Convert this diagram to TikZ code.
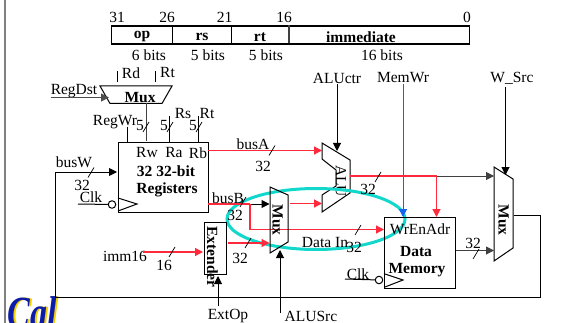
\documentclass[tikz,border=0pt]{standalone}
\usepackage{fontspec}
\setmainfont{Liberation Serif}
\usetikzlibrary{arrows.meta,calc}
\definecolor{wred}{HTML}{FF2A3C}
\definecolor{wblue}{HTML}{1464F0}
\definecolor{wteal}{HTML}{12D8CC}
\definecolor{wgray}{HTML}{808080}
\definecolor{calblue}{HTML}{0C1CA8}
\definecolor{calgold}{HTML}{F2D000}
\tikzset{
  lbl/.style={inner sep=0pt,font=\fontsize{15.5}{17}\selectfont},
  blbl/.style={inner sep=0pt,font=\fontsize{15.5}{17}\selectfont\bfseries},
  sbox/.style={draw=black,line width=1pt,inner sep=0pt,anchor=north west},
  wire/.style={draw=black,line width=1pt},
  wirea/.style={wire,-{Triangle[length=8pt,width=8pt]}},
  redw/.style={draw=wred,line width=1.2pt},
  reda/.style={redw,-{Triangle[length=8pt,width=8pt]}},
  slashm/.style={draw=black,line width=.7pt},
  shp/.style={draw=black,line width=1pt,line join=miter},
}
\newcommand{\busslash}[1]{\draw[slashm] ($(#1)+(-3,5)$) -- ($(#1)+(3,-5)$);}
\begin{document}
\begin{tikzpicture}[x=1pt,y=-1pt]
\useasboundingbox (0,0) rectangle (569,323);
\fill[white] (0,0) rectangle (569,323);
% page edge
\draw[wgray,line width=1.5pt] (5,0) -- (5,323);
% Cal logo
\begin{scope}
\clip (6,296) rectangle (80,323);
\node[inner sep=0pt,anchor=base west,text=calgold,font=\fontsize{46}{46}\selectfont\bfseries\itshape] (calb) at (9.5,328) {\scalebox{.74}[1]{Cal}};
\node[inner sep=0pt,anchor=base west,text=calblue,font=\fontsize{46}{46}\selectfont\bfseries\itshape] (cal) at (7.5,328) {\scalebox{.74}[1]{Cal}};
\end{scope}
% instruction format
\node[sbox,line width=1.8pt,minimum width=358pt,minimum height=18pt] (fmt) at (110.5,25) {};
\coordinate (d1t) at (172.5,25); \coordinate (d1b) at (172.5,43);
\coordinate (d2t) at (231,25); \coordinate (d2b) at (231,43);
\coordinate (d3t) at (289,25); \coordinate (d3b) at (289,43);
\draw[line width=1pt] (d1t) -- (d1b);
\draw[line width=1pt] (d2t) -- (d2b);
\draw[line width=1.5pt,black!75] (d3t) -- (d3b);
\node[lbl] (n31) at (117,17) {31};
\node[lbl] (n26) at (167,17) {26};
\node[lbl] (n21) at (224.5,17) {21};
\node[lbl] (n16) at (284,17) {16};
\node[lbl] (n0) at (467,17) {0};
\node[blbl] (fop) at (142,37) {op};
\node[blbl] (frs) at (202,37) {rs};
\node[blbl] (frt) at (260,37) {rt};
\node[blbl] (fimm) at (361,37) {immediate};
\node[lbl] (b6) at (149,55) {6 bits};
\node[lbl] (b5a) at (208,55) {5 bits};
\node[lbl] (b5b) at (266,55) {5 bits};
\node[lbl] (b16) at (382,55) {16 bits};
% RegDst mux
\node[lbl] (rd) at (131,73) {Rd};
\node[lbl] (rt1) at (167.5,73) {Rt};
\coordinate (rdt) at (117.5,71); \coordinate (rdb) at (117.5,82);
\coordinate (rtt) at (155,71); \coordinate (rtb) at (155,82);
\draw[wire] (rdt) -- (rdb);
\draw[wire] (rtt) -- (rtb);
\draw[shp] (100,86) -- (172,86) -- (162,103.5) -- (110,103.5) -- cycle;
\node[blbl] (mux1) at (140,98) {Mux};
\coordinate (m1in) at (109,97.5); \coordinate (m1s) at (50.5,97.5);
\node[lbl] (regdst) at (74,91) {RegDst};
\draw[wirea,draw=black!70] (m1s) -- (m1in);
\coordinate (m1o) at (146,103.5);
% registers
\node[sbox,minimum width=90pt,minimum height=70pt] (regs) at (117.5,142) {};
\node[lbl] (rw) at (147,153) {Rw};
\node[lbl] (ra) at (174,153) {Ra};
\node[lbl] (rb) at (198,153) {Rb};
\node[blbl] (r32) at (166,171) {32 32-bit};
\node[blbl] (rreg) at (167,190) {Registers};
\draw[wire,draw=black!75] (m1o) -- (146,141.5);
\node[lbl] (regwr) at (115,122) {RegWr};
\coordinate (rwt) at (127,127); \coordinate (rwb) at (127,142);
\coordinate (rat) at (169,116); \coordinate (rab) at (169,142);
\coordinate (rbt) at (198,116); \coordinate (rbb) at (198,142);
\draw[wire] (rwt) -- (rwb);
\draw[wire] (rat) -- (rab);
\draw[wire] (rbt) -- (rbb);
\coordinate (s1) at (146,127); \busslash{s1}
\coordinate (s2) at (170,127); \busslash{s2}
\coordinate (s3) at (199,127); \busslash{s3}
\node[lbl] (five1) at (140,126) {5};
\node[lbl] (five2) at (164,126) {5};
\node[lbl] (five3) at (193,126) {5};
\node[lbl] (rs) at (183,114) {Rs};
\node[lbl] (rt2) at (207,114) {Rt};
% clocks
\coordinate (ck1a) at (118,198); \coordinate (ck1b) at (137,204); \coordinate (ck1c) at (118,211);
\draw[wire] (ck1a) -- (ck1b) -- (ck1c);
\node[draw=black,line width=1pt,circle,inner sep=0pt,minimum size=7.5pt,fill=white] (c1) at (112,204.5) {};
\coordinate (ck1l) at (78,204);
\draw[wire] (ck1l) -- (c1);
\node[lbl] (clk1) at (91,197) {Clk};
% busW loop
\coordinate (w1) at (55,172);
\coordinate (w2) at (55,297);
\coordinate (w3) at (540,297);
\coordinate (w4) at (540,215);
\coordinate (w5) at (513.5,215);
\coordinate (w6) at (117,172);
\draw[wire] (w5) -- (w4) -- (w3) -- (w2) -- (w1);
\draw[wirea] (w1) -- (w6);
\node[lbl] (busw) at (74,162) {busW};
\coordinate (s4) at (91,172.5); \busslash{s4}
\node[lbl] (w32) at (82,185) {32};
% busA
\coordinate (ba) at (207.5,150.5); \coordinate (aluA) at (322,150.5);
\draw[reda] (ba) -- (aluA);
\node[lbl] (busa) at (253,144) {busA};
\coordinate (s5) at (272,150.5); \busslash{s5}
\node[lbl] (a32) at (263,166) {32};
% ALU
\draw[shp] (322,143) -- (350,160) -- (350,193) -- (322,212) -- (322,195) -- (336,186) -- (336,170) -- (322,159) -- cycle;
\node[lbl,rotate=-90] (alu) at (341,181) {ALU};
\node[lbl] (aluctr) at (337,78) {ALUctr};
\coordinate (act) at (337,84); \coordinate (acb) at (337,151);
\draw[wirea] (act) -- (acb);
% highlight ellipse
\draw[wteal,line width=3pt] (316,219) ellipse [x radius=89,y radius=30.5];
% busB
\coordinate (bb) at (207.5,204); \coordinate (bj) at (250,204); \coordinate (bm) at (269.5,204);
\draw[redw] (bb) -- (bj);
\draw[wirea] (bj) -- (bm);
\coordinate (bc) at (250,229.5);
\node[sbox,minimum width=71pt,minimum height=71pt] (dm) at (384,217) {};
\coordinate (din) at (384,229.5);
\draw[reda] (bj) -- (bc) -- (din);
\node[lbl] (busb) at (228,198) {busB};
\coordinate (s6) at (243,202); \busslash{s6}
\node[lbl] (b32) at (235,215.5) {32};
% mux 2
\draw[shp] (270,187) -- (288,195) -- (288,242) -- (270,253) -- cycle;
\node[blbl,rotate=-90] (mux2) at (277.5,220) {Mux};
\coordinate (m2o) at (290,203.5); \coordinate (aluB) at (322,203.5);
\draw[reda] (m2o) -- (aluB);
% extender
\node[sbox,minimum width=22pt,minimum height=52pt] (ext) at (204,222) {};
\node[blbl,rotate=-90] (extt) at (212.5,257) {Extender};
\node[lbl] (imm) at (125,256) {imm16};
\coordinate (imo) at (143,252); \coordinate (imi) at (203,252);
\draw[reda] (imo) -- (imi);
\coordinate (s7) at (172,252); \busslash{s7}
\node[lbl] (i16) at (164,265) {16};
\coordinate (exo) at (228,243); \coordinate (mxi) at (269.5,243);
\draw[reda] (exo) -- (mxi);
\coordinate (s8) at (248,243); \busslash{s8}
\node[lbl] (e32) at (240,258) {32};
\node[lbl] (extop) at (228,316) {ExtOp};
\coordinate (eos) at (218,306); \coordinate (eoe) at (218,276);
\draw[wirea] (eos) -- (eoe);
\node[lbl] (alusrc) at (311,316) {ALUSrc};
\coordinate (ass) at (280,313); \coordinate (ase) at (280,250);
\draw[wirea] (ass) -- (ase);
% data memory
\node[lbl] (wrena) at (420,229) {WrEnAdr};
\node[blbl] (dmd) at (416,251) {Data};
\node[blbl] (dmm) at (417,270) {Memory};
\node[lbl] (datain) at (325,242) {Data In};
\coordinate (s9) at (358,230); \busslash{s9}
\node[lbl] (d32) at (354,247) {32};
\coordinate (ck2a) at (385,274); \coordinate (ck2b) at (403,280); \coordinate (ck2c) at (385,287);
\draw[wire] (ck2a) -- (ck2b) -- (ck2c);
\node[draw=black,line width=1pt,circle,inner sep=0pt,minimum size=7.5pt,fill=white] (c2) at (379,280) {};
\coordinate (ck2l) at (345,279);
\draw[wire] (ck2l) -- (c2);
\node[lbl] (clk2) at (358,274) {Clk};
% MemWr
\node[lbl] (memwr) at (403,78) {MemWr};
\coordinate (mwt) at (403,84);
\draw[draw=wblue,line width=1pt,-{Triangle[length=8pt,width=8pt]}] (mwt) -- (403,217);
% ALU output
\coordinate (ao) at (350,176); \coordinate (aj) at (436.5,176); \coordinate (m3a) at (494,176);
\draw[wirea,draw=black!75] (aj) -- (m3a);
\draw[redw] (ao) -- (aj);
\draw[reda] (aj) -- (dm.north -| aj);
\coordinate (s10) at (378,177); \busslash{s10}
\node[lbl] (o32) at (368,189) {32};
% memory output
\coordinate (mi3) at (494,250.5);
\draw[wirea,draw=black!75] (dm.east |- mi3) -- (mi3);
\node[lbl] (m32) at (473,243) {32};
\coordinate (s11) at (476,254); \busslash{s11}
% output mux
\draw[shp] (494,167) -- (513,179) -- (513,248) -- (494,261) -- cycle;
\node[blbl,rotate=-90] (mux3) at (503.5,220) {Mux};
\node[lbl] (wsrc) at (512,78) {W\_Src};
\coordinate (wst) at (505.5,87); \coordinate (wsb) at (505.5,175);
\draw[wirea] (wst) -- (wsb);
\end{tikzpicture}
\end{document}
